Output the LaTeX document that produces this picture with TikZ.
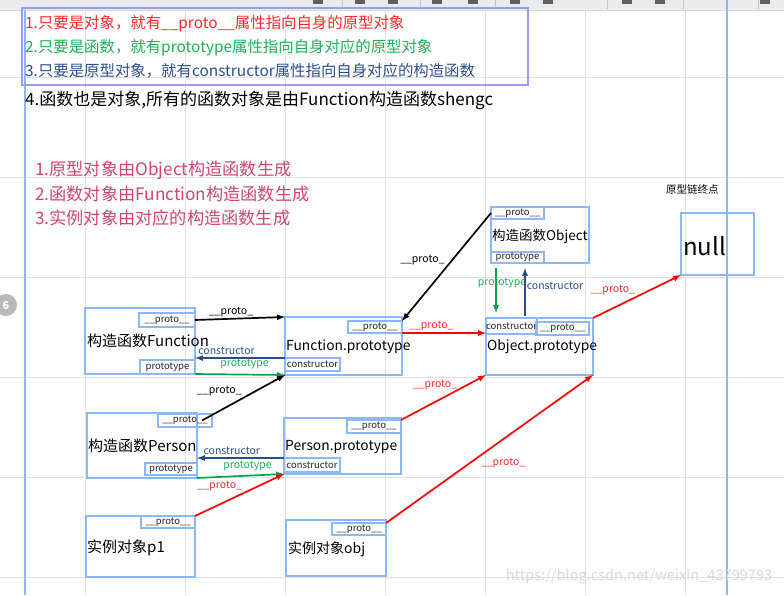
\documentclass[tikz,border=0pt]{standalone}
\usepackage{fontspec}
\setmainfont{Noto Sans CJK SC}
\usetikzlibrary{arrows,positioning}

\definecolor{boxblue}{HTML}{8AB8F8}
\definecolor{gridgray}{HTML}{E2E2E2}
\definecolor{toolgray}{HTML}{E9EBEE}
\definecolor{linered}{HTML}{FF0000}
\definecolor{linegreen}{HTML}{0AA34A}
\definecolor{linenavy}{HTML}{2B4C8C}
\definecolor{tipblue}{HTML}{9A9CF2}
\definecolor{rulepink}{HTML}{D1456F}
\definecolor{txtred}{HTML}{FF2A2A}
\definecolor{txtgreen}{HTML}{1FAF58}
\definecolor{txtnavy}{HTML}{2E4F8E}

\begin{document}
\begin{tikzpicture}[
		x=1pt, y=-1pt,
		box/.style={draw=boxblue, line width=1.6pt, inner sep=0pt, outer sep=0pt, anchor=north west},
		tag/.style={box, line width=1.4pt, font=\fontsize{9.5}{10}\selectfont, text=black!85},
		title/.style={anchor=west, inner sep=0pt, font=\fontsize{15}{16}\selectfont},
		ptitle/.style={title, font=\fontsize{13.8}{15}\selectfont},
		rule/.style={anchor=west, inner sep=0pt, font=\fontsize{15.4}{16}\selectfont},
		pinkrule/.style={rule, text=rulepink, font=\fontsize{17.2}{18}\selectfont},
		arrow/.style={-latex, line width=1.7pt},
		lbl/.style={font=\fontsize{10.5}{12}\selectfont, inner sep=1pt},
	]
		% canvas
		\fill[white] (0,0) rectangle (784,595);
		\useasboundingbox (0,0) rectangle (784,595);
		\foreach \x in {85,185,...,685}
			\draw[gridgray] (\x,10) -- (\x,595);
		\foreach \y in {77,177,...,577}
			\draw[gridgray] (0,\y) -- (784,\y);
		\fill[toolgray] (0,0) rectangle (784,10);
		\draw[gray!30] (0,10) -- (784,10);
		\foreach \x in {342,420,495,607,683,758}
			\draw[gray!45] (\x,0) -- (\x,9);
		\foreach \x in {318,360,393,437,473,515,548,627,660,765}
			\fill[gray!75!black] (\x-5,0) rectangle (\x+5,4);
		\draw[boxblue, line width=2pt] (25,10) -- (25,595);
		\draw[boxblue, line width=2pt] (727,0) -- (727,595);
		\fill[gray!55] (6,305) circle (11);
		\node (page) [text=white, font=\bfseries\fontsize{11}{12}\selectfont] at (6,305) {6};

		% notes
		\node (tips) [box, draw=tipblue, minimum width=506pt, minimum height=77pt] at (22,8) {};
		\node (r1) [rule, text=txtred] at (25,24) {1.只要是对象，就有\_\_proto\_\_属性指向自身的原型对象};
		\node (r2) [rule, text=txtgreen] at (25,48) {2.只要是函数，就有prototype属性指向自身对应的原型对象};
		\node (r3) [rule, text=txtnavy] at (25,71) {3.只要是原型对象，就有constructor属性指向自身对应的构造函数};
		\node (r4) [rule, font=\fontsize{17}{18}\selectfont] at (25,100) {4.函数也是对象,所有的函数对象是由Function构造函数shengc};
		\node (s1) [pinkrule] at (35,170) {1.原型对象由Object构造函数生成};
		\node (s2) [pinkrule] at (35,194) {2.函数对象由Function构造函数生成};
		\node (s3) [pinkrule] at (35,218) {3.实例对象由对应的构造函数生成};
		\node (end) [rule, font=\fontsize{10.5}{12}\selectfont] at (666,189) {原型链终点};

		% boxes
		\node (fn) [box, minimum width=110pt, minimum height=66pt] at (85,308) {};
		\node (fnproto) [tag, minimum width=56pt, minimum height=14pt] at (139,313) {\_\_proto\_\_};
		\node (fnprot) [tag, minimum width=55pt, minimum height=14pt] at (140,360) {prototype};
		\node (fntitle) [title] at (87,341) {构造函数Function};

		\node (fp) [box, minimum width=117pt, minimum height=58pt] at (285,317) {};
		\node (fpproto) [tag, minimum width=54pt, minimum height=12pt] at (348,321) {\_\_proto\_\_};
		\node (fpcons) [tag, minimum width=55pt, minimum height=13pt] at (285,358) {constructor};
		\node (fptitle) [ptitle] at (286,347) {Function.prototype};

		\node (pn) [box, minimum width=110pt, minimum height=65pt] at (87,413) {};
		\node (pnproto) [tag, minimum width=54pt, minimum height=13pt] at (158,414) {\_\_proto\_\_};
		\node (pnprot) [tag, minimum width=52pt, minimum height=12pt] at (145,463) {prototype};
		\node (pntitle) [title] at (88,446) {构造函数Person};

		\node (pp) [box, minimum width=117pt, minimum height=56pt] at (284,418) {};
		\node (ppproto) [tag, minimum width=54pt, minimum height=13pt] at (347,420) {\_\_proto\_\_};
		\node (ppcons) [tag, minimum width=56pt, minimum height=14pt] at (284,458) {constructor};
		\node (pptitle) [ptitle] at (285,447) {Person.prototype};

		\node (p1) [box, minimum width=109pt, minimum height=61pt] at (86,516) {};
		\node (p1proto) [tag, minimum width=54pt, minimum height=12pt] at (141,516) {\_\_proto\_\_};
		\node (p1title) [title] at (87,548) {实例对象p1};

		\node (obj) [box, minimum width=100pt, minimum height=56pt] at (286,520) {};
		\node (objproto) [tag, minimum width=54pt, minimum height=12pt] at (332,523) {\_\_proto\_\_};
		\node (objtitle) [title, font=\fontsize{14}{15}\selectfont] at (288,549) {实例对象obj};

		\node (on) [box, minimum width=98pt, minimum height=56pt] at (491,207) {};
		\node (onproto) [tag, minimum width=53pt, minimum height=12pt] at (491,207) {\_\_proto\_\_};
		\node (onprot) [tag, minimum width=53pt, minimum height=11pt] at (491,252) {prototype};
		\node (ontitle) [title, font=\fontsize{13.5}{15}\selectfont] at (492,236) {构造函数Object};

		\node (op) [box, minimum width=107pt, minimum height=57pt] at (486,318) {};
		\node (opcons) [tag, minimum width=51pt, minimum height=16pt] at (486,318) {constructor};
		\node (opproto) [tag, minimum width=53pt, minimum height=13pt] at (536,322) {\_\_proto\_\_};
		\node (optitle) [ptitle] at (487,347) {Object.prototype};

		\node (nul) [box, minimum width=73pt, minimum height=62pt] at (681,213) {};
		\node (nultitle) [title, font=\fontsize{24}{26}\selectfont] at (683,246) {null};

		% Function
		\draw[arrow] (fnproto.east) -- node[lbl, above, pos=0.4] {\_\_proto\_} (fp.north west);
		\draw[arrow, linenavy] (fpcons.north west) -- node[lbl, above=2pt, pos=0.65, text=txtnavy] {constructor} (fpcons.north west -| fn.east);
		\draw[arrow, linegreen] (fnprot.south east) -- node[lbl, above=4pt, pos=0.55, text=txtgreen] {prototype} (fp.south west);
		\draw[arrow] ([xshift=-10pt]pnproto.east) -- node[lbl, above left] {\_\_proto\_} (fp.south west);
		\draw[arrow] (onproto.west) -- node[lbl, above left] {\_\_proto\_} (fpproto.north east);
		\draw[arrow, linered] (fpproto.south east) -- node[lbl, above, pos=0.35, text=txtred] {\_\_proto\_} (fpproto.south east -| op.west);

		% Person
		\draw[arrow, linenavy] (ppcons.north west) -- node[lbl, above=2pt, pos=0.6, text=txtnavy] {constructor} (ppcons.north west -| pn.east);
		\draw[arrow, linegreen] (pn.south east) -- node[lbl, above=3pt, pos=0.58, text=txtgreen] {prototype} (pp.south west);
		\draw[arrow, linered] (p1proto.north east) -- node[lbl, above left, pos=0.55, text=txtred] {\_\_proto\_} (pp.south west);
		\draw[arrow, linered] (ppproto.north east) -- node[lbl, above=10pt, pos=0.4, text=txtred] {\_\_proto\_} (op.south west);
		\draw[arrow, linered] (objproto.north east) -- node[lbl, below right, pos=0.45, text=txtred] {\_\_proto\_} (op.south east);

		% Object
		\draw[arrow, linegreen] ([xshift=5pt,yshift=-5pt]onprot.south west) -- node[lbl, pos=0.33, xshift=6pt, text=txtgreen] {prototype} ([xshift=10pt,yshift=5pt]op.north west);
		\draw[arrow, linenavy] ([xshift=39pt,yshift=2pt]op.north west) -- node[lbl, right, pos=0.63, text=txtnavy] {constructor} ([xshift=34pt,yshift=-5pt]onprot.south west);
		\draw[arrow, linered] (op.north east) -- node[lbl, above left, text=txtred] {\_\_proto\_} (nul.south west);

		\node (mark) [text=gray!30, font=\fontsize{14.6}{16}\selectfont] at (639,577) {https://blog.csdn.net/weixin\_43799793};
	\end{tikzpicture}
\end{document}
